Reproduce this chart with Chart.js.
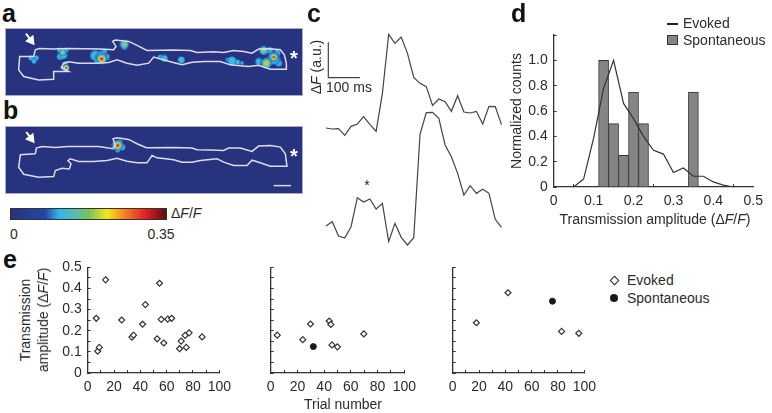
<!DOCTYPE html>
<html>
<head>
<meta charset="utf-8">
<script src="https://cdn.jsdelivr.net/npm/chart.js@4/dist/chart.umd.min.js"></script>
<style>
    html, body { margin: 0; padding: 0; background: #fff; }
    body { width: 772px; height: 413px; position: relative; overflow: hidden; font-family: "Liberation Sans", sans-serif; color: #2b2b2b; }
    canvas { position: absolute; }
    .t { position: absolute; font-size: 14px; white-space: nowrap; line-height: 16px; transform: translate(-50%, -50%); }
    .l { transform: translate(0, -50%); }
    .v { transform: translate(-50%, -50%) rotate(-90deg); }
    .letter { font-size: 25px; font-weight: bold; color: #111; transform: none; line-height: 25px; }
    #colorbar { position: absolute; left: 10px; top: 208px; width: 155px; height: 10px; border: 1px solid #333; }
    .swatch { position: absolute; box-sizing: border-box; }
</style>
</head>
<body>

<canvas id="panelA" width="298" height="68" style="left:5px;top:28px"></canvas>
<canvas id="panelB" width="298" height="68" style="left:5px;top:126px"></canvas>
<canvas id="panelC" width="200" height="250" style="left:315px;top:0"></canvas>
<canvas id="panelD" width="267" height="225" style="left:505px;top:0"></canvas>
<canvas id="panelE1" width="190" height="163" style="left:50px;top:250px"></canvas>
<canvas id="panelE2" width="175" height="163" style="left:250px;top:250px"></canvas>
<canvas id="panelE3" width="175" height="163" style="left:430px;top:250px"></canvas>

<div class="t letter" style="left:2px;top:1px">a</div>
<div class="t letter" style="left:3px;top:98px">b</div>
<div class="t letter" style="left:307px;top:1px">c</div>
<div class="t letter" style="left:511px;top:1px">d</div>
<div class="t letter" style="left:3px;top:247px">e</div>

<div id="colorbar"></div>
<div class="t" style="left:14px;top:234px">0</div>
<div class="t" style="left:161px;top:234px">0.35</div>
<div class="t l" style="left:171px;top:213px">Δ<i>F</i>/<i>F</i></div>

<div class="t v" style="left:316px;top:67px">Δ<i>F</i> (a.u.)</div>
<div class="t" style="left:349px;top:87px">100 ms</div>

<div class="swatch" style="left:667px;top:23px;width:11px;height:1.5px;background:#222"></div>
<div class="swatch" style="left:667px;top:35px;width:11px;height:10px;background:#858585;border:1px solid #333"></div>
<div class="t l" style="left:683px;top:23px">Evoked</div>
<div class="t l" style="left:683px;top:40px">Spontaneous</div>
<div class="t" style="left:655px;top:219px">Transmission amplitude (Δ<i>F</i>/<i>F</i>)</div>

<div class="t v" style="left:25px;top:320px">Transmission</div>
<div class="t v" style="left:43px;top:320px">amplitude (Δ<i>F</i>/<i>F</i>)</div>

<div class="swatch" style="left:610.5px;top:277.2px;width:7px;height:7px;background:#fff;border:1.2px solid #222;transform:rotate(45deg)"></div>
<div class="swatch" style="left:610px;top:294px;width:8px;height:8px;background:#1a1a1a;border-radius:50%"></div>
<div class="t l" style="left:627px;top:280px">Evoked</div>
<div class="t l" style="left:627px;top:298px">Spontaneous</div>

<script>
// Panel a, b: dendrite outlines and hot spots [x, y, r, peak]
const outlineA = [[105,150],[118,146],[160,148],[200,146],[300,148],[340,150],[347,140],[337,125],[345,121],[385,125],[410,137],[440,152],[520,151],[570,152],[590,158],[640,156],[670,158],[700,152],[730,155],[755,160],[775,148],[810,147],[840,150],[852,165],[858,190],[858,208],[810,208],[775,196],[745,200],[720,198],[690,195],[660,185],[610,185],[575,187],[545,195],[510,186],[460,172],[445,190],[410,196],[380,190],[350,180],[325,188],[290,190],[235,190],[205,186],[190,190],[183,203],[205,215],[160,215],[160,238],[115,240],[70,230],[55,210],[58,170],[100,170],[105,150]];
const outlineB = [[105,175],[108,158],[125,153],[165,156],[200,153],[295,153],[338,160],[345,150],[338,130],[350,127],[385,132],[410,145],[438,157],[520,156],[575,158],[590,163],[630,164],[670,165],[685,158],[720,158],[755,168],[775,152],[810,150],[840,155],[855,175],[860,212],[810,212],[775,200],[755,194],[740,210],[700,210],[670,200],[650,190],[600,195],[575,200],[545,200],[520,193],[470,187],[455,180],[440,202],[410,202],[380,197],[350,188],[320,195],[280,198],[235,198],[210,190],[203,195],[212,205],[207,220],[185,218],[165,225],[160,243],[115,245],[70,236],[55,215],[60,178],[105,175]];
const spotsA = [
    [103,177,3,0.32],[92,175,3,0.3],[108,174,3,0.28],[101,184,3,0.28],
    [178,152,3,0.32],[196,153,3,0.32],[180,170,4,0.34],[190,167,4,0.36],[187,158,4,0.62],
    [285,167,6,0.34],[310,157,4,0.32],[318,172,4,0.32],[292,182,4,0.34],[303,170,6,0.42],[304,177,6,1],
    [195,192,3,0.33],[190,204,3,0.34],[197,204,4,1],
    [372,143,3,0.3],[372,134,5,0.64],
    [480,172,3,0.3],[492,176,4,0.42],[543,180,4,0.38],
    [684,180,3,0.32],[695,183,5,0.42],[712,187,3,0.36],[725,190,2,0.3],
    [775,185,4,0.32],[808,152,4,0.31],[835,190,4,0.31],[830,160,4,0.31],
    [790,152,5,0.62],[820,176,7,0.5],[820,172,5,1],[798,190,6,0.78]
];
const spotsB = [[365,155,4,0.34],[342,148,3,0.36],[352,163,3,0.34],[358,140,3,0.6],[352,150,6,1]];
const scaleBarB = [[820,270],[872,270]];

// Panel c: traces
const frameMs = [0,20,40,60,80,100,120,140,160,180,200,220,240,260,280,300,320,340,360,380,400,420,440,460,480,500,520,540,560];
const traceTop = [366,363,364,344,371,378,400,377,356,470,647,620,639,590,518,500,490,434,453,445,416,463,414,411,416,378,431,430,376];
const traceBottom = [72,85,42,36,70,157,144,153,123,140,25,80,38,15,37,347,412,413,395,315,280,230,165,193,170,182,170,92,68];

// Panel d: histogram
const binCenters = [0.125,0.15,0.175,0.2,0.225,0.35];
const spontaneousCounts = [1,0.5,0.25,0.75,0.5,0.75];
const evokedAmps = [0.05,0.075,0.1,0.125,0.15,0.175,0.2,0.225,0.25,0.275,0.3,0.325,0.35,0.375,0.4,0.425,0.45,0.475,0.5];
const evokedCounts = [0,0.063,0.385,0.78,1,0.66,0.54,0.4,0.29,0.26,0.115,0.15,0.085,0.085,0.04,0.015,0,0,0];

// Panel e: three cells
const evoked1Trial = [6.5,7.6,8.8,13.6,25.8,33.6,34.8,41.7,43.8,52.8,54.6,55.8,57.8,60.8,63.8,69.8,71,74,74.9,77,86.9];
const evoked1Amp = [0.259,0.103,0.121,0.441,0.251,0.17,0.179,0.231,0.324,0.162,0.425,0.254,0.142,0.255,0.259,0.115,0.151,0.178,0.121,0.19,0.171];
const evoked2Trial = [4.9,24,29.8,43.8,45,45.9,49.9,69.7];
const evoked2Amp = [0.179,0.158,0.232,0.246,0.23,0.133,0.124,0.185];
const spont2Trial = [31.9];
const spont2Amp = [0.125];
const evoked3Trial = [18,42,82.7,95.8];
const evoked3Amp = [0.238,0.38,0.197,0.188];
const spont3Trial = [75.8];
const spont3Amp = [0.34];

const AXIS = '#333';
const FONT = { family: '"Liberation Sans", sans-serif', size: 14 };
const NAVY = '#27337f';
const cmap = [[0,'39,51,127'],[0.22,'34,70,170'],[0.31,'50,180,235'],[0.42,'90,190,170'],[0.5,'120,195,90'],[0.62,'245,230,30'],[0.72,'245,140,35'],[0.87,'225,30,35'],[1,'90,15,20']];

Chart.defaults.font.family = FONT.family;
Chart.defaults.animation = false;
Chart.defaults.responsive = false;
Chart.defaults.plugins.legend.display = false;
Chart.defaults.plugins.tooltip.enabled = false;

document.getElementById('colorbar').style.background =
    'linear-gradient(to right,' + cmap.map(s => `rgb(${s[1]}) ${s[0] * 100}%`).join(',') + ')';

const toXY = pairs => pairs.map(p => ({ x: p[0], y: p[1] }));
const zip = (xs, ys) => xs.map((x, i) => ({ x: x, y: ys[i] }));

// round gradient sprite for one hot spot, stays cyan to near the rim
function blobSprite(r, peak) {
    const c = document.createElement('canvas');
    c.width = c.height = r * 2;
    const g = c.getContext('2d');
    const grad = g.createRadialGradient(r, r, 0, r, r, r);
    const top = cmap.find(s => s[0] >= peak);
    const low = Math.min(0.3, peak - 0.01);
    grad.addColorStop(0, `rgb(${top[1]})`);
    cmap.filter(s => s[0] > low && s[0] < peak).reverse().forEach(s => {
        grad.addColorStop(0.72 * (1 - (s[0] - low) / (peak - low)), `rgb(${s[1]})`);
    });
    grad.addColorStop(0.72, 'rgb(50,170,225)');
    grad.addColorStop(0.9, 'rgba(34,90,190,0.8)');
    grad.addColorStop(1, 'rgba(34,70,170,0)');
    g.fillStyle = grad;
    g.fillRect(0, 0, r * 2, r * 2);
    return c;
}

function cellChart(id, outline, spots, yMin, yMax, extra) {
    const sprites = spots.map(s => blobSprite(s[2], s[3]));
    new Chart(document.getElementById(id), {
        type: 'bubble',
        data: {
            datasets: [
                {
                    data: spots.map(s => ({ x: s[0], y: s[1], r: s[2] })),
                    pointStyle: ctx => sprites[ctx.dataIndex],
                    order: 2
                },
                {
                    type: 'line',
                    data: toXY(outline),
                    borderColor: '#dcdce8',
                    borderWidth: 1.5,
                    pointRadius: 0,
                    order: 1
                }
            ].concat(extra)
        },
        options: {
            layout: { padding: 0, autoPadding: false },
            scales: {
                x: { type: 'linear', display: false, min: 14, max: 908 },
                y: { display: false, reverse: true, min: yMin, max: yMax }
            }
        },
        plugins: [{
            id: 'navyBack',
            beforeDraw(chart) {
                const g = chart.ctx;
                g.fillStyle = NAVY;
                g.fillRect(0, 0, chart.width, chart.height);
                g.strokeStyle = '#a9adc9';
                g.strokeRect(0.5, 0.5, chart.width - 1, chart.height - 1);
            },
            afterDraw(chart) {
                const g = chart.ctx;
                g.fillStyle = '#fff';
                g.font = 'bold 20px "Liberation Sans"';
                g.textAlign = 'center';
                g.fillText('*', chart.width - 9, 37);
            }
        }]
    });
}

// arrow drawn as a shaft and a triangle head
function arrowSets(x0, y0, x1, y1) {
    return [
        { type: 'line', data: [{ x: x0, y: y0 }, { x: x1 - 11, y: y1 - 14 }], borderColor: '#fff', borderWidth: 2, pointRadius: 0, order: 0 },
        { type: 'scatter', data: [{ x: x1 - 11, y: y1 - 14 }], backgroundColor: '#fff', borderWidth: 0, pointStyle: 'triangle', pointRadius: 6, rotation: 143, order: 0 }
    ];
}

cellChart('panelA', outlineA, spotsA, 85, 288, arrowSets(77, 102, 103, 136));
cellChart('panelB', outlineB, spotsB, 92, 295, arrowSets(78, 110, 103, 143).concat([
    { type: 'line', data: toXY(scaleBarB), borderColor: '#d9d9e6', borderWidth: 1.5, pointRadius: 0, order: 0 }
]));

// Panel c
new Chart(document.getElementById('panelC'), {
    type: 'line',
    data: {
        datasets: [
            { data: zip(frameMs, traceTop), borderColor: '#444', borderWidth: 1.2, pointRadius: 0 },
            { data: zip(frameMs, traceBottom), borderColor: '#444', borderWidth: 1.2, pointRadius: 0 },
            { data: [{ x: 7.5, y: 623 }, { x: 7.5, y: 517 }, { x: 108, y: 517 }], borderColor: '#444', borderWidth: 1.2, pointRadius: 0 }
        ]
    },
    options: {
        layout: { padding: 0, autoPadding: false },
        scales: {
            x: { type: 'linear', display: false, min: -35, max: 603 },
            y: { display: false, min: 0, max: 750 }
        }
    },
    plugins: [{
        id: 'star',
        afterDraw(chart) {
            const g = chart.ctx;
            g.fillStyle = '#222';
            g.font = '14px "Liberation Sans"';
            g.textAlign = 'center';
            g.textBaseline = 'middle';
            g.fillText('*', 52, 186);
        }
    }]
});

function axisBase(extra) {
    return Object.assign({
        type: 'linear',
        border: { color: AXIS, width: 1.3 },
        grid: { drawOnChartArea: false, color: AXIS, tickLength: -3, tickWidth: 1 },
        ticks: { color: '#2b2b2b', font: FONT, maxRotation: 0, autoSkip: false, padding: 9 }
    }, extra);
}

// Panel d: plot box 553.7..758.3 x 35..187 on the page
new Chart(document.getElementById('panelD'), {
    type: 'bar',
    data: {
        datasets: [
            { type: 'line', label: 'Evoked', data: zip(evokedAmps, evokedCounts), borderColor: '#333', borderWidth: 1.2, pointRadius: 0, order: 0 },
            { label: 'Spontaneous', data: zip(binCenters, spontaneousCounts), backgroundColor: '#858585', borderColor: '#333', borderWidth: 1, barPercentage: 1, categoryPercentage: 1, order: 1 }
        ]
    },
    options: {
        layout: { padding: { left: 0, top: 35, right: 8.7, bottom: 0 }, autoPadding: false },
        scales: {
            x: axisBase({
                position: 'bottom', min: 0, max: 0.5, offset: false,
                afterFit: s => { s.height = 38; },
                ticks: { color: '#2b2b2b', font: FONT, maxRotation: 0, autoSkip: false, padding: 9, stepSize: 0.1,
                    callback: v => v === 0 ? '0' : v.toFixed(1) }
            }),
            y: axisBase({
                min: 0, max: 1.2,
                afterFit: s => { s.width = 48.7; },
                title: { display: true, text: 'Normalized counts', color: '#2b2b2b', font: FONT, padding: { top: 4, bottom: 0 } },
                ticks: { color: '#2b2b2b', font: FONT, autoSkip: false, padding: 9, stepSize: 0.2,
                    callback: v => v > 1.1 ? '' : (v === 0 ? '0' : v.toFixed(1)) }
            })
        }
    }
});

// Panel e: shared scatter setup
function trialChart(id, areaLeft, areaWidth, canvasWidth, evoked, spont, showY) {
    const sets = [{
        data: evoked, pointStyle: 'rectRot', pointRadius: 3, backgroundColor: '#fff', borderColor: '#333', borderWidth: 1.2
    }];
    if (spont) sets.push({ data: spont, pointStyle: 'circle', pointRadius: 3, backgroundColor: '#1a1a1a', borderColor: '#1a1a1a' });
    new Chart(document.getElementById(id), {
        type: 'scatter',
        data: { datasets: sets },
        options: {
            layout: { padding: { left: 0, top: 16, right: canvasWidth - areaLeft - areaWidth, bottom: 0 }, autoPadding: false },
            scales: {
                x: axisBase({
                    position: 'bottom', min: 0, max: 100,
                    afterFit: s => { s.height = 40; },
                    ticks: { color: '#2b2b2b', font: FONT, maxRotation: 0, autoSkip: false, padding: 9, stepSize: 10,
                        callback: v => (v % 20 === 0 ? String(v) : '') }
                }),
                y: axisBase({
                    min: 0, max: 0.5,
                    afterFit: s => { s.width = areaLeft; },
                    ticks: { color: '#2b2b2b', font: FONT, autoSkip: false, padding: 9, stepSize: 0.05,
                        callback: v => {
                            if (!showY) return '';
                            const tenths = Math.round(v * 100) / 10;
                            if (tenths % 1 !== 0) return '';
                            return tenths === 0 ? '0' : (tenths / 10).toFixed(1);
                        } }
                })
            }
        }
    });
}

trialChart('panelE1', 37.7, 144.6, 190, zip(evoked1Trial, evoked1Amp), null, true);
trialChart('panelE2', 20.7, 143, 175, zip(evoked2Trial, evoked2Amp), zip(spont2Trial, spont2Amp), false);
trialChart('panelE3', 22.7, 143, 175, zip(evoked3Trial, evoked3Amp), zip(spont3Trial, spont3Amp), false);
</script>

<div class="t" style="left:343px;top:404px">Trial number</div>
</body>
</html>
